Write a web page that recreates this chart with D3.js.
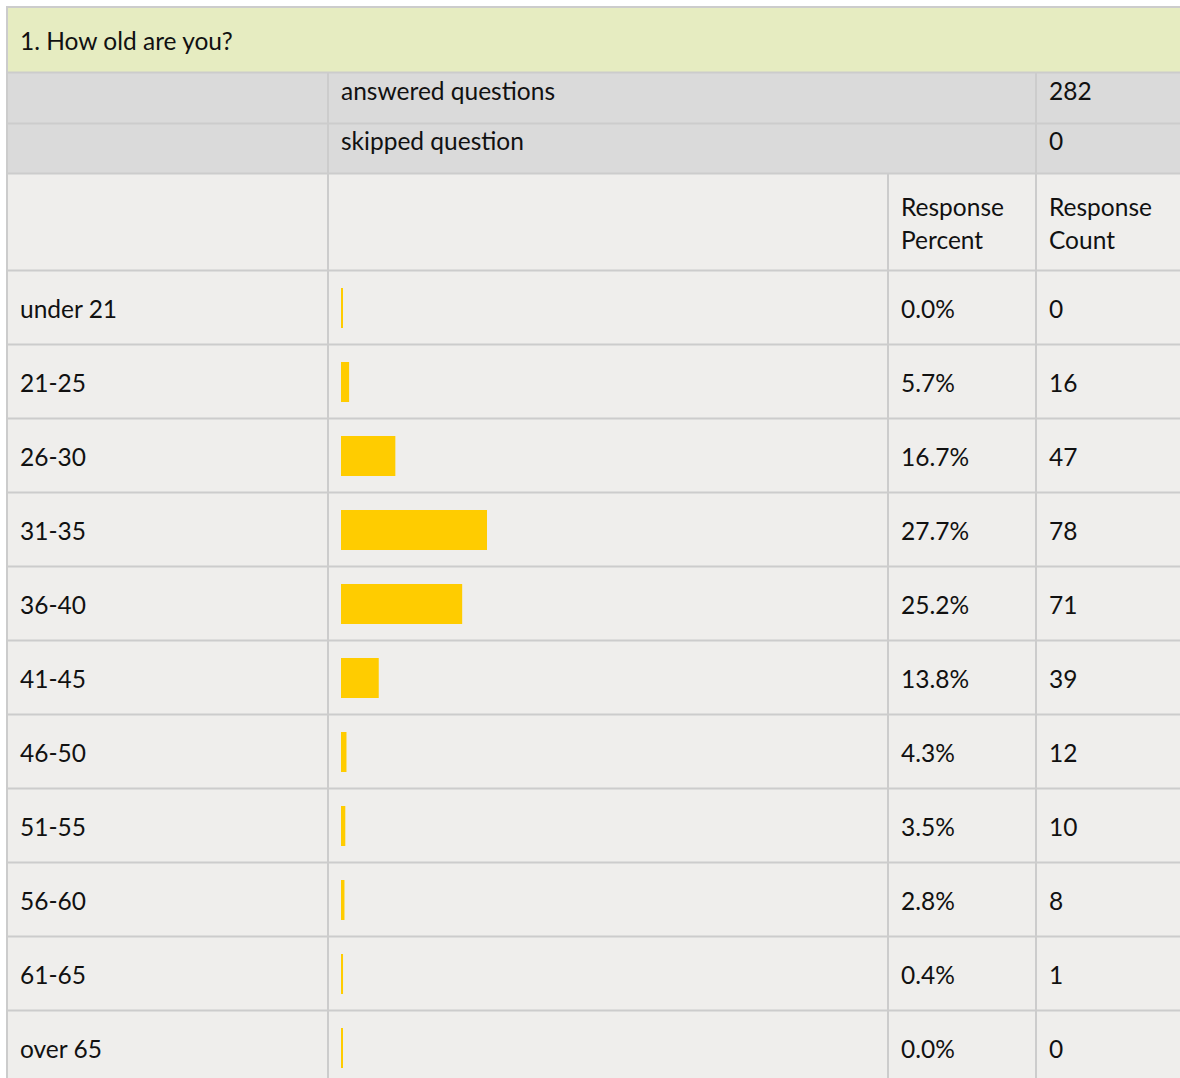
<!DOCTYPE html>
<html>
<head>
<meta charset="utf-8">
<title>How old are you?</title>
<script src="https://d3js.org/d3.v7.min.js"></script>
<style>
  body { margin: 0; background: #fff; }
  text { font-family: Lato, "Open Sans", sans-serif; font-size: 24.5px; fill: #111; }
</style>
</head>
<body>
<svg id="chart" width="1180" height="1078"></svg>
<script>
// survey data
var question = "1. How old are you?";
var summaryLabels = ["answered questions", "skipped question"];
var summaryValues = [282, 0];
var headerPercent = ["Response", "Percent"];
var headerCount = ["Response", "Count"];
var categories = ["under 21", "21-25", "26-30", "31-35", "36-40", "41-45", "46-50", "51-55", "56-60", "61-65", "over 65"];
var percents = [0.0, 5.7, 16.7, 27.7, 25.2, 13.8, 4.3, 3.5, 2.8, 0.4, 0.0];
var counts = [0, 16, 47, 78, 71, 39, 12, 10, 8, 1, 0];

var svg = d3.select("#chart"),
    W = 1200,
    left = 7,
    col1 = 328, col2 = 888, col3 = 1036,
    lineColor = "#cccccc";

// header blocks
svg.append("rect").attr("x", left).attr("y", 7).attr("width", W).attr("height", 65).attr("fill", "#e6ecc1");
svg.append("rect").attr("x", left).attr("y", 72).attr("width", W).attr("height", 102).attr("fill", "#dadada");
svg.append("rect").attr("x", left).attr("y", 174).attr("width", W).attr("height", 910).attr("fill", "#efeeec");

svg.append("text").attr("x", 20).attr("y", 50).text(question);

var summaryY = d3.scaleBand().domain(summaryLabels).range([73, 173]);
var sum = svg.append("g");
sum.selectAll("text.lab").data(summaryLabels).enter().append("text")
    .attr("class", "lab")
    .attr("x", 341)
    .attr("y", function(d) { return summaryY(d) + 27; })
    .text(function(d) { return d; });
sum.selectAll("text.val").data(summaryValues).enter().append("text")
    .attr("class", "val")
    .attr("x", 1049)
    .attr("y", function(d, i) { return summaryY(summaryLabels[i]) + 27; })
    .text(function(d) { return d; });

// column header
[headerPercent, headerCount].forEach(function(lines, j) {
  var t = svg.append("text").attr("x", j === 0 ? 901 : 1049).attr("y", 216);
  lines.forEach(function(s, i) {
    t.append("tspan").attr("x", j === 0 ? 901 : 1049).attr("dy", i === 0 ? 0 : 33).text(s);
  });
});

// rows
var y = d3.scaleBand().domain(categories).range([271, 271 + 74 * categories.length]);
var x = d3.scalePow().exponent(2).domain([0, d3.max(percents)]).range([2, 146]);

var rows = svg.selectAll("g.row").data(categories).enter().append("g")
    .attr("class", "row")
    .attr("transform", function(d) { return "translate(0," + y(d) + ")"; });

rows.append("text").attr("x", 20).attr("y", 47).text(function(d) { return d; });
rows.append("rect")
    .attr("x", 341)
    .attr("y", 17)
    .attr("height", 40)
    .attr("width", function(d, i) { return x(percents[i]); })
    .attr("fill", "#ffcc00");
rows.append("text").attr("x", 901).attr("y", 47).text(function(d, i) { return percents[i].toFixed(1) + "%"; });
rows.append("text").attr("x", 1049).attr("y", 47).text(function(d, i) { return counts[i]; });

// grid lines
var hLines = [7, 72.5, 123.5, 173.5].concat(categories.map(function(d) { return y(d) - 0.5; }));
svg.selectAll("line.h").data(hLines).enter().append("line")
    .attr("x1", left).attr("x2", W).attr("y1", function(d) { return d; }).attr("y2", function(d) { return d; })
    .attr("stroke", lineColor).attr("stroke-width", 2);
svg.append("line").attr("x1", left).attr("x2", left).attr("y1", 6).attr("y2", 1078).attr("stroke", lineColor).attr("stroke-width", 2);
svg.append("line").attr("x1", col1).attr("x2", col1).attr("y1", 73).attr("y2", 1078).attr("stroke", lineColor).attr("stroke-width", 2);
svg.append("line").attr("x1", col3).attr("x2", col3).attr("y1", 73).attr("y2", 1078).attr("stroke", lineColor).attr("stroke-width", 2);
svg.append("line").attr("x1", col2).attr("x2", col2).attr("y1", 174).attr("y2", 1078).attr("stroke", lineColor).attr("stroke-width", 2);
</script>
</body>
</html>
